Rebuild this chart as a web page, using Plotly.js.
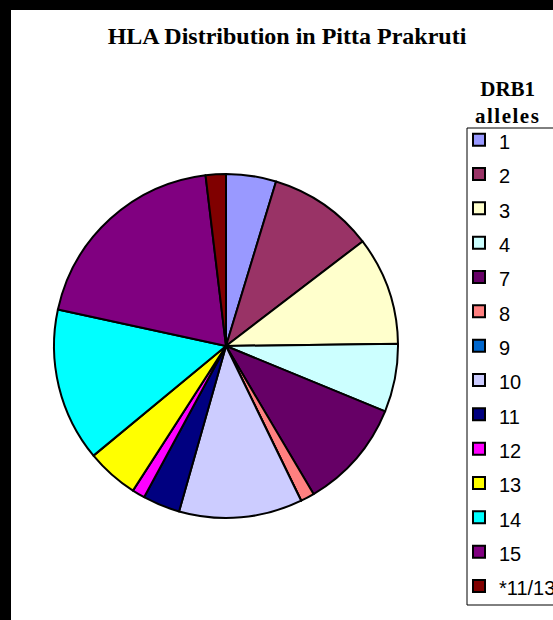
<!DOCTYPE html>
<html>
<head>
<meta charset="utf-8">
<script src="https://cdn.plot.ly/plotly-3.0.1.min.js"></script>
<style>
  html, body { margin: 0; padding: 0; background: #000; width: 553px; height: 620px; overflow: hidden; }
  #chart { position: absolute; left: 11px; top: 10px; width: 542px; height: 610px; background: #fff; }
</style>
</head>
<body>
<div id="chart"></div>
<script>
// DRB1 allele categories (legend order, clockwise from 12 o'clock)
const alleles = ["1", "2", "3", "4", "7", "8", "9", "10", "11", "12", "13", "14", "15", "*11/13"];
// Share of each allele (%)
const shares = [4.7, 9.9, 10.2, 6.4, 10.3, 1.3, 0, 11.6, 3.5, 1.2, 4.9, 14.4, 19.7, 1.9];
const sliceColors = ["#9999FF", "#993366", "#FFFFCC", "#CCFFFF", "#660066", "#FF8080", "#0066CC",
                     "#CCCCFF", "#000080", "#FF00FF", "#FFFF00", "#00FFFF", "#800080", "#800000"];
const chartTitle = "HLA Distribution in Pitta Prakruti";
const legendTitle = ["DRB1", "alleles"];

const W = 542, H = 610;

const trace = {
  type: "pie",
  labels: alleles.map(a => '<span style="font-size:20px">' + a + '</span>'),
  values: shares,
  sort: false,
  direction: "clockwise",
  rotation: 0,
  textinfo: "none",
  hoverinfo: "label+percent",
  marker: { colors: sliceColors, line: { color: "#000", width: 2 } },
  domain: { x: [43 / W, 387 / W], y: [1 - 508 / H, 1 - 164 / H] }
};

const layout = {
  width: W, height: H,
  margin: { l: 0, r: 0, t: 0, b: 0, autoexpand: false },
  paper_bgcolor: "#fff",
  showlegend: true,
  title: {
    text: "<b>" + chartTitle + "</b>",
    font: { family: "Liberation Serif, Times New Roman, serif", size: 24, color: "#000" },
    xref: "container", yref: "container",
    x: 276 / W, xanchor: "center",
    y: 1 - 26 / H, yanchor: "middle"
  },
  legend: {
    xref: "container", yref: "container",
    x: 448 / W, xanchor: "left",
    y: 1 - 107.5 / H, yanchor: "top",
    maxheight: 600,
    borderwidth: 0,
    bgcolor: "rgba(0,0,0,0)",
    font: { family: "Liberation Sans, Arial, sans-serif", size: 24.1, color: "#000" },
    traceorder: "normal"
  },
  shapes: [{
    type: "rect", xref: "paper", yref: "paper", layer: "below",
    x0: 456 / W, x1: 1.05,
    y0: 1 - 595 / H, y1: 1 - 118 / H,
    line: { color: "#000", width: 1 },
    fillcolor: "rgba(0,0,0,0)"
  }],
  annotations: [{
    xref: "paper", yref: "paper",
    x: 496 / W, y: 1 - 92.5 / H,
    xanchor: "center", yanchor: "middle",
    showarrow: false,
    text: "<b>" + legendTitle[0] + "</b><br><b><span style=\"letter-spacing:1.5px\">" + legendTitle[1] + "</span></b>",
    font: { family: "Liberation Serif, Times New Roman, serif", size: 21, color: "#000" }
  }]
};

Plotly.newPlot("chart", [trace], layout, { displayModeBar: false, staticPlot: true });
</script>
</body>
</html>
